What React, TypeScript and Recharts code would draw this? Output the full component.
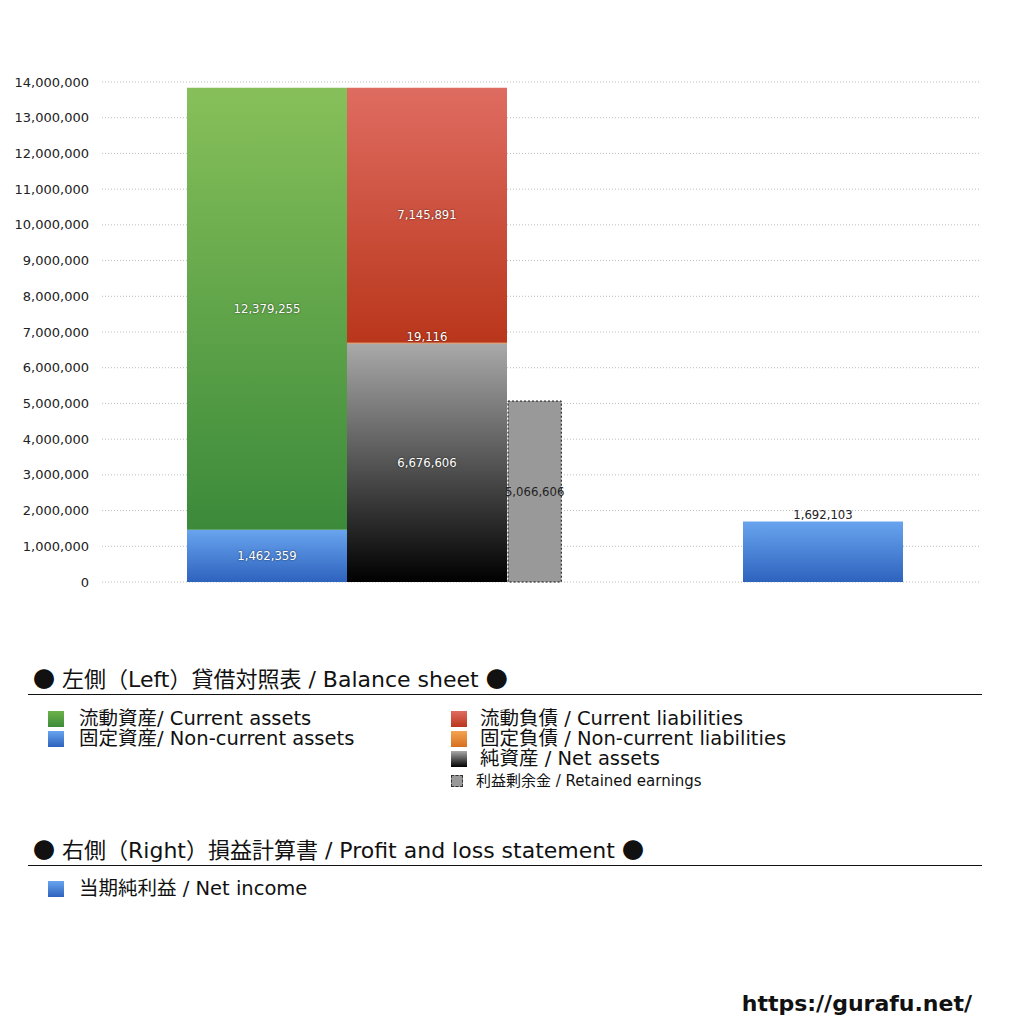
import React from 'react';
import { BarChart, Bar, XAxis, YAxis, CartesianGrid, LabelList } from 'recharts';

// balance sheet columns (left side)
const bsColumns = ['資産', '負債・純資産', '利益剰余金'];
const currentAssets = [12379255, 0, 0];
const fixedAssets = [1462359, 0, 0];
const currentLiabilities = [0, 7145891, 0];
const fixedLiabilities = [0, 19116, 0];
const netAssets = [0, 6676606, 0];
const retainedEarnings = [0, 0, 5066606];

// profit and loss (right side)
const plColumns = ['当期純利益'];
const netIncome = [1692103];

const yTicks = [0, 1000000, 2000000, 3000000, 4000000, 5000000, 6000000, 7000000, 8000000, 9000000, 10000000, 11000000, 12000000, 13000000, 14000000];

const bsData = bsColumns.map((name, i) => ({
  name,
  currentAssets: currentAssets[i],
  fixedAssets: fixedAssets[i],
  currentLiabilities: currentLiabilities[i],
  fixedLiabilities: fixedLiabilities[i],
  netAssets: netAssets[i],
  retainedEarnings: retainedEarnings[i],
}));

const plData = plColumns.map((name, i) => ({ name, netIncome: netIncome[i] }));

const CJK = '"Noto Sans CJK JP", sans-serif';
const FONT = '"DejaVu Sans", "Noto Sans CJK JP", sans-serif';
const W = 1024;
const H = 600;

const fmt = (v: any) => (v ? Number(v).toLocaleString('en-US') : '');

const whiteLabel = { fill: '#fff', fontSize: 11.7, fontFamily: FONT, textShadow: '0 0 2px rgba(0,0,0,0.7)' } as any;

const RetainedShape = (props: any) => {
  const { x, y, width, height } = props;
  if (!height) return null;
  return (
    <rect x={x + 1} y={y} width={width / 3} height={height} fill="#999" stroke="#111" strokeDasharray="2 2" strokeWidth={1} />
  );
};

const RetainedLabel = (props: any) => {
  const { x, y, width, height, value } = props;
  if (!value) return null;
  return (
    <text x={x + 1 + width / 6} y={y + height / 2} textAnchor="middle" dominantBaseline="central" fontSize={11.7} fontFamily={FONT} fill="#222">
      {fmt(value)}
    </text>
  );
};

const Swatch = ({ top, left, bg, size = 16, dashed = false }: any) => (
  <div
    style={{
      position: 'absolute',
      top,
      left,
      width: size,
      height: size,
      background: bg,
      boxSizing: 'border-box',
      border: dashed ? '1px dashed #333' : 'none',
    }}
  />
);

const Line = ({ top, left, text, size = 19.5 }: any) => (
  <div style={{ position: 'absolute', top, left, height: 20, lineHeight: '20px', fontSize: size, color: '#111', whiteSpace: 'nowrap' }}>
    {text}
  </div>
);

const Heading = ({ top, text }: any) => (
  <div style={{ position: 'absolute', top, left: 33, height: 30, lineHeight: '30px', fontSize: 22, color: '#111', whiteSpace: 'nowrap' }}>
    <span style={{ fontFamily: CJK }}>●</span> {text} <span style={{ fontFamily: CJK }}>●</span>
  </div>
);

export default function App() {
  return (
    <div style={{ position: 'absolute', left: 0, top: 0, width: 1024, height: 1024, background: '#fff', fontFamily: FONT, overflow: 'hidden' }}>
      <div style={{ position: 'absolute', left: 0, top: 0 }}>
        <BarChart width={W} height={H} data={bsData} margin={{ top: 82, right: 44, bottom: 18, left: 12 }} barCategoryGap={0} barGap={0}>
          <defs>
            <linearGradient id="gGreen" x1="0" y1="0" x2="0" y2="1">
              <stop offset="0%" stopColor="#87C05A" />
              <stop offset="100%" stopColor="#3B8A3A" />
            </linearGradient>
            <linearGradient id="gBlue" x1="0" y1="0" x2="0" y2="1">
              <stop offset="0%" stopColor="#68A4EE" />
              <stop offset="100%" stopColor="#2E63BE" />
            </linearGradient>
            <linearGradient id="gRed" x1="0" y1="0" x2="0" y2="1">
              <stop offset="0%" stopColor="#DF6C61" />
              <stop offset="100%" stopColor="#B9361B" />
            </linearGradient>
            <linearGradient id="gOrange" x1="0" y1="0" x2="0" y2="1">
              <stop offset="0%" stopColor="#F2A452" />
              <stop offset="100%" stopColor="#D76F1E" />
            </linearGradient>
            <linearGradient id="gBlack" x1="0" y1="0" x2="0" y2="1">
              <stop offset="0%" stopColor="#A9A9A9" />
              <stop offset="100%" stopColor="#000000" />
            </linearGradient>
          </defs>
          <CartesianGrid vertical={false} stroke="#bbb" strokeDasharray="1 2" />
          <XAxis dataKey="name" hide padding={{ left: 85, right: 313 }} />
          <YAxis
            width={90}
            domain={[0, 14000000]}
            ticks={yTicks}
            interval={0}
            axisLine={false}
            tickLine={false}
            tickSize={6}
            tickMargin={7}
            tickFormatter={(v) => Number(v).toLocaleString('en-US')}
            tick={{ fontSize: 13, fill: '#222', fontFamily: FONT }}
          />
          <Bar dataKey="fixedAssets" stackId="bs" fill="url(#gBlue)" isAnimationActive={false}>
            <LabelList dataKey="fixedAssets" position="center" formatter={fmt} style={whiteLabel} />
          </Bar>
          <Bar dataKey="currentAssets" stackId="bs" fill="url(#gGreen)" isAnimationActive={false}>
            <LabelList dataKey="currentAssets" position="center" formatter={fmt} style={whiteLabel} />
          </Bar>
          <Bar dataKey="netAssets" stackId="bs" fill="url(#gBlack)" isAnimationActive={false}>
            <LabelList dataKey="netAssets" position="center" formatter={fmt} style={whiteLabel} />
          </Bar>
          <Bar dataKey="fixedLiabilities" stackId="bs" fill="url(#gOrange)" isAnimationActive={false}>
            <LabelList dataKey="fixedLiabilities" position="top" offset={2} formatter={fmt} style={whiteLabel} />
          </Bar>
          <Bar dataKey="currentLiabilities" stackId="bs" fill="url(#gRed)" isAnimationActive={false}>
            <LabelList dataKey="currentLiabilities" position="center" formatter={fmt} style={whiteLabel} />
          </Bar>
          <Bar dataKey="retainedEarnings" stackId="bs" fill="#999" shape={<RetainedShape />} isAnimationActive={false}>
            <LabelList dataKey="retainedEarnings" content={<RetainedLabel />} />
          </Bar>
        </BarChart>
      </div>

      <div style={{ position: 'absolute', left: 0, top: 0 }}>
        <BarChart width={W} height={H} data={plData} margin={{ top: 82, right: 44, bottom: 18, left: 102 }} barCategoryGap={0}>
          <defs>
            <linearGradient id="gBlue2" x1="0" y1="0" x2="0" y2="1">
              <stop offset="0%" stopColor="#68A4EE" />
              <stop offset="100%" stopColor="#2E63BE" />
            </linearGradient>
          </defs>
          <XAxis dataKey="name" hide padding={{ left: 641, right: 77 }} />
          <YAxis hide domain={[0, 14000000]} ticks={yTicks} />
          <Bar dataKey="netIncome" fill="url(#gBlue2)" isAnimationActive={false}>
            <LabelList dataKey="netIncome" position="top" offset={3} formatter={fmt} style={{ fill: '#222', fontSize: 11.7, fontFamily: FONT }} />
          </Bar>
        </BarChart>
      </div>

      {/* legend: balance sheet */}
      <Heading top={662} text="左側（Left）貸借対照表 / Balance sheet" />
      <div style={{ position: 'absolute', top: 694, left: 28, width: 954, height: 1, background: '#111' }} />
      <Swatch top={711} left={48} bg="linear-gradient(#6cb24a, #3d8b3a)" />
      <Line top={709} left={79} text="流動資産/ Current assets" />
      <Swatch top={731} left={48} bg="linear-gradient(#68a4ee, #2e63be)" />
      <Line top={729} left={79} text="固定資産/ Non-current assets" />
      <Swatch top={711} left={451} bg="linear-gradient(#df6c61, #b9361b)" />
      <Line top={709} left={480} text="流動負債 /  Current liabilities" />
      <Swatch top={731} left={451} bg="linear-gradient(#f2a452, #d76f1e)" />
      <Line top={729} left={480} text="固定負債 / Non-current liabilities" />
      <Swatch top={751} left={451} bg="linear-gradient(#a9a9a9, #000)" />
      <Line top={749} left={480} text="純資産 / Net assets" />
      <Swatch top={775} left={451} size={12} bg="#999" dashed />
      <Line top={771} left={476} size={15} text="利益剰余金 / Retained earnings" />

      {/* legend: profit and loss */}
      <Heading top={833} text="右側（Right）損益計算書 / Profit and loss statement" />
      <div style={{ position: 'absolute', top: 865, left: 28, width: 954, height: 1, background: '#111' }} />
      <Swatch top={881} left={48} bg="linear-gradient(#68a4ee, #2e63be)" />
      <Line top={879} left={79} text="当期純利益 / Net income" />

      <div style={{ position: 'absolute', top: 990, right: 52, height: 28, lineHeight: '28px', fontSize: 22, fontWeight: 'bold', color: '#111', fontFamily: '"DejaVu Sans", sans-serif' }}>
        https://gurafu.net/
      </div>
    </div>
  );
}
